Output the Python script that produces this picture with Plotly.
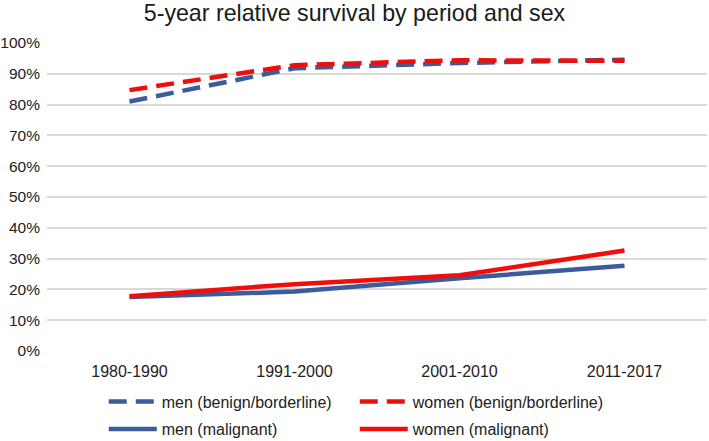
import plotly.graph_objects as go

periods = ["1980-1990", "1991-2000", "2001-2010", "2011-2017"]
men_benign = [81.0, 91.8, 93.5, 94.6]
women_benign = [84.7, 92.8, 94.4, 94.2]
men_malignant = [17.5, 19.3, 23.6, 27.7]
women_malignant = [17.8, 21.7, 24.6, 32.6]
y_ticks = list(range(0, 101, 10))
y_tick_labels = [f"{v}%" for v in y_ticks]

BLUE = "#3b5b9a"
RED = "#f20d0d"

fig = go.Figure()
fig.add_trace(go.Scatter(x=periods, y=men_benign, mode="lines", name="men (benign/borderline)",
                         line=dict(color=BLUE, width=4.5, dash="18px,9px"), legend="legend"))
fig.add_trace(go.Scatter(x=periods, y=women_benign, mode="lines", name="women (benign/borderline)",
                         line=dict(color=RED, width=4.5, dash="18px,9px"), legend="legend"))
fig.add_trace(go.Scatter(x=periods, y=men_malignant, mode="lines", name="men (malignant)",
                         line=dict(color=BLUE, width=4.5), legend="legend2"))
fig.add_trace(go.Scatter(x=periods, y=women_malignant, mode="lines", name="women (malignant)",
                         line=dict(color=RED, width=4.5), legend="legend2"))

legend_common = dict(orientation="h", x=0.086, xanchor="left", yanchor="top",
                     entrywidth=188, entrywidthmode="pixels", itemwidth=48,
                     font=dict(size=16, color="#222222"), bgcolor="rgba(0,0,0,0)")

fig.update_layout(
    width=709, height=441,
    margin=dict(l=47, r=2, t=43, b=90, autoexpand=False),
    paper_bgcolor="white", plot_bgcolor="white",
    font=dict(family="Liberation Sans, Arial, sans-serif", size=16, color="#222222"),
    title=dict(text="5-year relative survival by period and sex", x=0.5, xref="container",
               xanchor="center", y=1 - 13 / 441, yref="container", yanchor="middle",
               font=dict(size=23.2, color="#1a1a1a")),
    xaxis=dict(showgrid=False, showline=False, zeroline=False, ticks="", automargin=False,
               range=[-0.5, 3.5], ticklabelstandoff=9, tickfont=dict(size=16)),
    yaxis=dict(range=[0, 100], tickvals=y_ticks, ticktext=y_tick_labels, automargin=False,
               showgrid=True, gridcolor="#d9d9d9", gridwidth=2, zeroline=False,
               showline=False, ticks="", ticklabelstandoff=6, tickfont=dict(size=15.5)),
    legend=dict(y=-0.109, **legend_common),
    legend2=dict(y=-0.198, **legend_common),
    showlegend=True,
)

fig.write_html("out.html")
